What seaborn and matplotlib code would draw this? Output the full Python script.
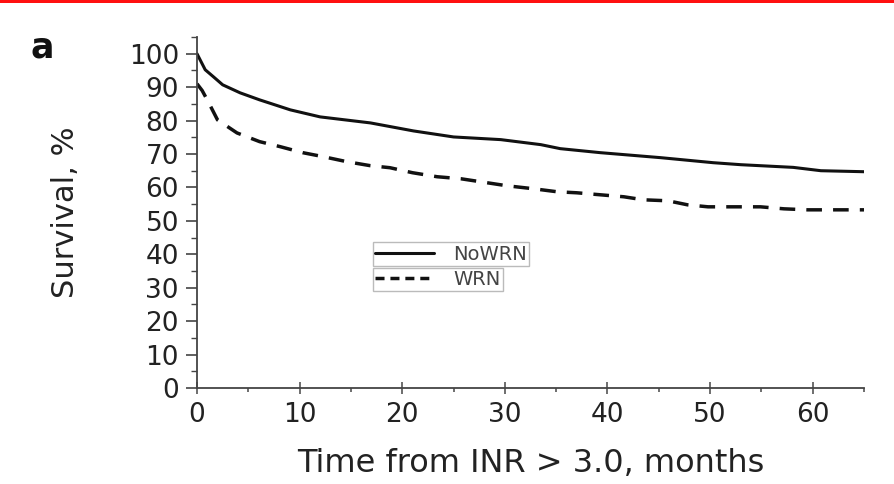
import numpy as np
import pandas as pd
import matplotlib
matplotlib.use("Agg")
import matplotlib.pyplot as plt
from matplotlib.patches import Rectangle
from matplotlib.lines import Line2D
from matplotlib.ticker import MultipleLocator
import seaborn as sns

# Kaplan-Meier style survival estimates (percent) by months from INR > 3.0
months_nowrn = [0, 0.3, 0.8, 1.6, 2.5, 4.2, 6.1, 9.1, 12.0, 16.9, 21.1, 25.0,
                29.6, 33.5, 35.4, 39.3, 45.2, 50.3, 53.0, 58.1, 60.8, 65.0]
surv_nowrn = [100, 98.2, 95.2, 93.1, 90.7, 88.3, 86.2, 83.2, 81.1, 79.3, 76.9, 75.1,
              74.3, 72.8, 71.6, 70.4, 68.9, 67.4, 66.8, 66.0, 65.0, 64.7]

months_wrn = [0, 0.5, 1.1, 2.0, 3.9, 6.1, 8.1, 10.3, 12.3, 14.6, 16.9, 18.8, 21.0,
              23.4, 25.7, 30.2, 32.8, 35.1, 37.0, 39.3, 41.6, 43.5, 45.9, 47.8,
              49.8, 52.3, 54.9, 57.2, 59.5, 65.0]
surv_wrn = [91.0, 89.0, 85.6, 80.2, 76.3, 73.7, 72.2, 70.4, 69.2, 67.7, 66.5, 65.9,
            64.4, 63.2, 62.6, 60.5, 59.6, 58.7, 58.4, 57.8, 57.2, 56.3, 56.0, 54.8,
            54.2, 54.2, 54.2, 53.6, 53.3, 53.3]

group_labels = ["NoWRN", "WRN"]
x_ticks = [0, 10, 20, 30, 40, 50, 60]
y_ticks = [0, 10, 20, 30, 40, 50, 60, 70, 80, 90, 100]

sns.set_theme(style="white")
plt.rcParams["font.family"] = ["DejaVu Sans"]

df = pd.concat([
    pd.DataFrame({"month": months_nowrn, "survival": surv_nowrn, "group": group_labels[0]}),
    pd.DataFrame({"month": months_wrn, "survival": surv_wrn, "group": group_labels[1]}),
], ignore_index=True)

fig = plt.figure(figsize=(8.94, 4.84), dpi=100)
ax = fig.add_axes([197 / 894, 1 - 388 / 484, 667 / 894, 351 / 484])

line_color = "#111111"
dash_pattern = (4.5, 3.2)
sns.lineplot(data=df[df.group == "NoWRN"], x="month", y="survival", ax=ax,
             color=line_color, linewidth=2.2, estimator=None, sort=False)
sns.lineplot(data=df[df.group == "WRN"], x="month", y="survival", ax=ax,
             color=line_color, linewidth=2.5, estimator=None, sort=False,
             dashes=False)
ax.lines[1].set_dashes(dash_pattern)

ax.set_xlim(0, 65)
ax.set_ylim(0, 105)
ax.set_xticks(x_ticks)
ax.set_yticks(y_ticks)
ax.xaxis.set_minor_locator(MultipleLocator(5))
ax.yaxis.set_minor_locator(MultipleLocator(5))

for side in ["top", "right"]:
    ax.spines[side].set_visible(False)
for side in ["left", "bottom"]:
    ax.spines[side].set_color("#444444")
    ax.spines[side].set_linewidth(1.3)

ax.tick_params(axis="y", which="major", direction="out", length=8, width=1.2,
               color="#444444", labelsize=19, labelcolor="#222222", pad=5, left=True)
ax.tick_params(axis="y", which="minor", direction="out", length=4, width=1.0,
               color="#444444", left=True)
ax.tick_params(axis="x", which="major", direction="inout", length=8, width=1.2,
               color="#555555", labelsize=19, labelcolor="#222222", pad=6, bottom=True)
ax.tick_params(axis="x", which="minor", direction="out", length=3, width=1.2,
               color="#555555", bottom=True)

ax.set_xlabel("Time from INR > 3.0, months", fontsize=23, color="#222222")
ax.set_ylabel("Survival, %", fontsize=22, color="#222222")
ax.xaxis.set_label_coords(0.5, -0.17)
ax.yaxis.set_label_coords(-0.176, 0.5)
ax.grid(False)

# Two stacked legend boxes, one per group
handles = [Line2D([], [], color=line_color, linewidth=2.2),
           Line2D([], [], color=line_color, linewidth=2.5, dashes=(2.6, 1.7))]
leg_kw = dict(frameon=True, fancybox=False, framealpha=1, fontsize=14,
              handlelength=3.0, handletextpad=1.0, borderpad=0.12,
              borderaxespad=0, loc="upper left")
leg1 = ax.legend([handles[0]], [group_labels[0]], bbox_to_anchor=(0.264, 0.415), **leg_kw)
ax.add_artist(leg1)
leg2 = ax.legend([handles[1]], [group_labels[1]], bbox_to_anchor=(0.264, 0.343), **leg_kw)
for leg in (leg1, leg2):
    leg.get_frame().set_edgecolor("#bbbbbb")
    leg.get_frame().set_linewidth(1.0)
    for t in leg.get_texts():
        t.set_color("#444444")

# Panel letter and top rule
fig.text(30 / 894, 1 - 30 / 484, "a", fontsize=25, fontweight="bold",
         color="#111111", ha="left", va="top")
fig.add_artist(Rectangle((0, 1 - 3 / 484), 1, 3 / 484, transform=fig.transFigure,
                         facecolor="#ff1010", edgecolor="none"))

fig.savefig("out.png", dpi=100, facecolor="white")
